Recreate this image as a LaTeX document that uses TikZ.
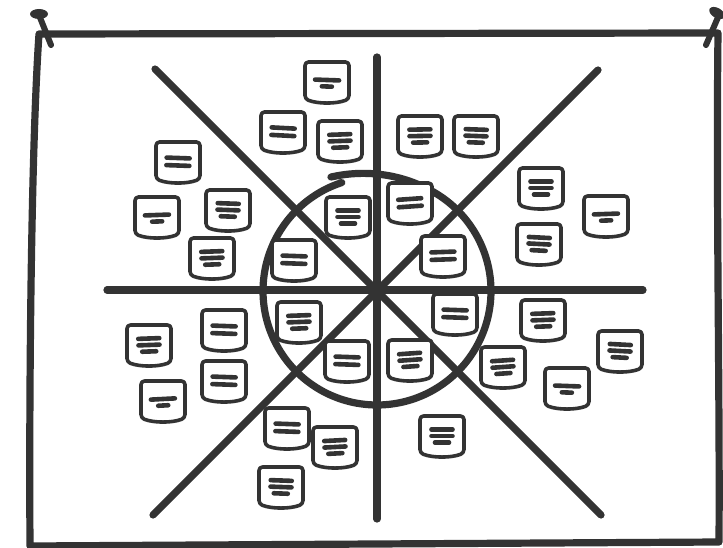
\documentclass[tikz,border=0pt]{standalone}
\usetikzlibrary{calc}
\definecolor{ink}{HTML}{333333}
\tikzset{
  board/.style={draw=ink, line width=7.2pt, line cap=round, line join=round},
  ray/.style={draw=ink, line width=7.2pt, line cap=round},
  notestroke/.style={draw=ink, fill=white, line width=3.6pt, line join=round, rounded corners=3.5pt},
  noteline/.style={draw=ink, line width=4.6pt, line cap=round},
  notebox/.pic={
    \path[notestroke] (-22,-20) -- (22,-20) -- (22,17) .. controls (9,22) and (-9,22) .. (-22,17) -- cycle;
  },
  noteA/.pic={
    \pic {notebox};
    \draw[noteline] (-12,-2) -- (12,-2);
    \draw[noteline] (-5,4.5) -- (5,4.5);
  },
  noteB/.pic={
    \pic {notebox};
    \draw[noteline] (-11.5,-4) -- (11.5,-4);
    \draw[noteline] (-11.5,3.5) -- (11.5,3.5);
  },
  noteC/.pic={
    \pic {notebox};
    \draw[noteline] (-10.5,-6.5) -- (10.5,-6.5);
    \draw[noteline] (-10.5,0) -- (10.5,0);
    \draw[noteline] (-7,6.5) -- (7,6.5);
  }
}
\begin{document}
\begin{tikzpicture}[x=1pt,y=-1pt]
\useasboundingbox (0,0) rectangle (723,548);
\fill[white] (0,0) rectangle (723,548);

% board
\draw[board] (30,546) .. controls (29,400) and (31,150) .. (39,34) -- (718,33)
  .. controls (716,200) and (720,400) .. (719,542) -- cycle;
% pins
\fill[ink] (39,14) ellipse [x radius=9, y radius=5];
\draw[ink, line width=6pt, line cap=round] (39,15) -- (51,45);
\fill[ink, rotate around={-30:(717,13)}] (717,13) ellipse [x radius=8.5, y radius=5];
\draw[ink, line width=6pt, line cap=round] (719,15) -- (706,45);

% rays
\coordinate (c) at (377,290);
\coordinate (n) at (377,57);
\coordinate (s) at (377,519);
\coordinate (w) at (107,290);
\coordinate (e) at (643,290);
\coordinate (nw) at (155,69);
\coordinate (se) at (601,515);
\coordinate (ne) at (598,70);
\coordinate (sw) at (153,515);
\draw[ray] (n) -- (s);
\draw[ray] (w) -- (e);
\draw[ray] (nw) -- (se);
\draw[ray] (ne) -- (sw);

% circle
\draw[ink, line width=7.2pt, line cap=round] plot[domain=108:472, samples=140, smooth]
  ({377+(114+0.0033*pow(max(0,\x-420),2))*cos(\x)},
   {291-(114+0.0033*pow(max(0,\x-420),2))*sin(\x)});

% notes: top
\pic[rotate=-2] (n1) at (327,82) {noteA};
\pic[rotate=-3] (n2) at (283,132) {noteB};
\pic[rotate=2] (n3) at (340,141) {noteC};
\pic[rotate=1] (n12) at (420,136) {noteC};
\pic[rotate=-2] (n13) at (476,136) {noteC};
% left
\pic[rotate=-2] (n4) at (178,162) {noteB};
\pic[rotate=2] (n5) at (157,217) {noteA};
\pic[rotate=-2] (n6) at (228,210) {noteC};
\pic[rotate=2] (n7) at (212,258) {noteC};
% circle
\pic[rotate=0] (n8) at (348,217) {noteC};
\pic[rotate=-2] (n9) at (294,260) {noteB};
\pic[rotate=4] (n10) at (410,203) {noteB};
\pic[rotate=2] (n11) at (443,256) {noteB};
\pic[rotate=2] (n21) at (299,322) {noteC};
\pic[rotate=-2] (n22) at (347,361) {noteB};
\pic[rotate=-2] (n26) at (455,314) {noteB};
\pic[rotate=4] (n27) at (410,360) {noteC};
% right upper
\pic[rotate=0] (n14) at (541,188) {noteC};
\pic[rotate=2] (n15) at (606,216) {noteA};
\pic[rotate=-3] (n16) at (539,244) {noteC};
% lower right
\pic[rotate=2] (n28) at (543,320) {noteC};
\pic[rotate=-3] (n29) at (620,351) {noteC};
\pic[rotate=4] (n30) at (503,367) {noteC};
\pic[rotate=-2] (n31) at (567,388) {noteA};
\pic[rotate=0] (n32) at (442,436) {noteC};
% lower left
\pic[rotate=2] (n17) at (149,345) {noteC};
\pic[rotate=-2] (n18) at (224,330) {noteB};
\pic[rotate=3] (n19) at (163,401) {noteA};
\pic[rotate=-2] (n20) at (224,381) {noteB};
\pic[rotate=-2] (n23) at (287,428) {noteB};
\pic[rotate=3] (n24) at (335,447) {noteC};
\pic[rotate=-2] (n25) at (281,487) {noteC};
\end{tikzpicture}
\end{document}
